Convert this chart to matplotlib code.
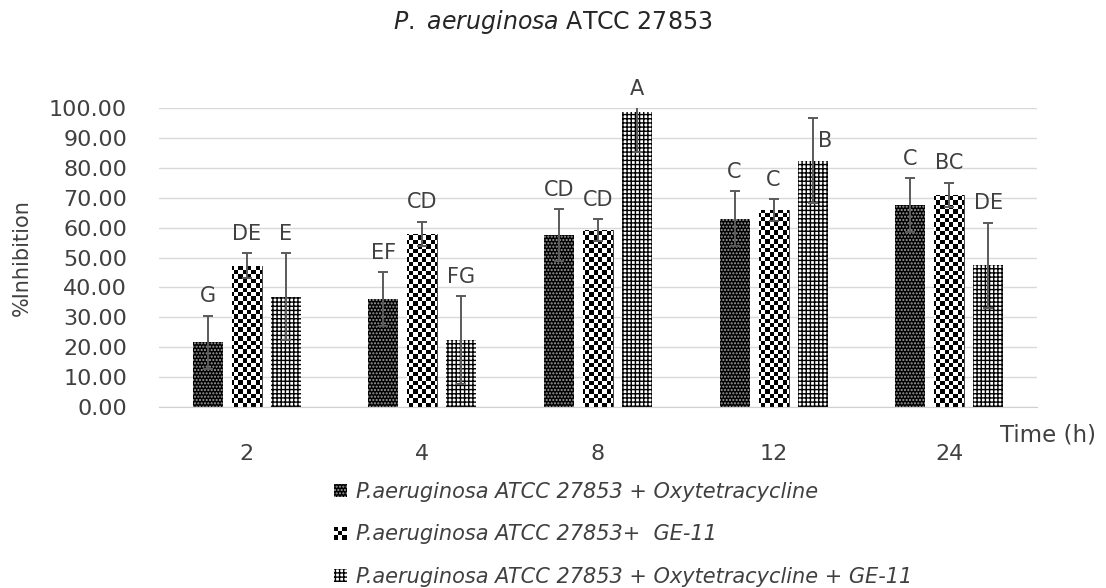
import numpy as np
import matplotlib
matplotlib.use("Agg")
import matplotlib.pyplot as plt
from matplotlib.patches import Rectangle
from matplotlib.legend_handler import HandlerBase
from matplotlib.ticker import FormatStrFormatter

# Data
times = ["2", "4", "8", "12", "24"]
oxy_mean = [21.6, 36.1, 57.4, 63.0, 67.6]
oxy_sd = [9.0, 8.9, 8.7, 9.1, 9.0]
ge_mean = [47.2, 57.8, 59.1, 65.9, 70.9]
ge_sd = [4.2, 4.1, 3.7, 3.6, 4.1]
combo_mean = [36.9, 22.4, 98.8, 82.4, 47.4]
combo_sd = [14.5, 14.6, 13.4, 14.3, 14.2]
oxy_letters = ["G", "EF", "CD", "C", "C"]
ge_letters = ["DE", "CD", "CD", "C", "BC"]
combo_letters = ["E", "FG", "A", "B", "DE"]
series_names = ["P.aeruginosa ATCC 27853 + Oxytetracycline",
                "P.aeruginosa ATCC 27853+  GE-11",
                "P.aeruginosa ATCC 27853 + Oxytetracycline + GE-11"]


# legend icon for the checkerboard series
class CheckerHandler(HandlerBase):
    def create_artists(self, legend, orig_handle, xdescent, ydescent,
                       width, height, fontsize, trans):
        arts = [Rectangle((-xdescent, -ydescent), width, height,
                          facecolor="white", edgecolor="none", transform=trans)]
        cw, ch = width / 3, height / 3
        for i in range(3):
            for j in range(3):
                if (i + j) % 2 == 0:
                    arts.append(Rectangle((-xdescent + i * cw, -ydescent + j * ch), cw, ch,
                                          facecolor="black", edgecolor="none", transform=trans))
        return arts


plt.rcParams["font.family"] = "DejaVu Sans"
plt.rcParams["hatch.linewidth"] = 1.0
txt = "#404040"

fig = plt.figure(figsize=(11.06, 5.88), dpi=100)
ax = fig.add_axes([159 / 1106, 1 - 407 / 588, 878 / 1106, 299 / 588])

x = np.arange(len(times))
w = 0.17
off = 0.222

b1 = ax.bar(x - off, oxy_mean, w, color="black", edgecolor="#a0a0a0",
            hatch=".....", linewidth=0, zorder=2)
b2 = ax.bar(x, ge_mean, w, color="white", edgecolor="black", linewidth=0.5, zorder=2)
b3 = ax.bar(x + off, combo_mean, w, color="white", edgecolor="black",
            hatch="++++", linewidth=0, zorder=2)

# checkerboard fill, clipped to each bar
cells = np.indices((68, 200)).sum(axis=0) % 2
for bar in b2:
    im = ax.imshow(cells, cmap="gray", vmin=0, vmax=1, extent=(-0.5, 4.5, 0, 100),
                   aspect="auto", interpolation="nearest", zorder=2.5)
    im.set_clip_path(bar)

# error bars
for xs, m, s in [(x - off, oxy_mean, oxy_sd), (x, ge_mean, ge_sd), (x + off, combo_mean, combo_sd)]:
    ax.errorbar(xs, m, yerr=s, fmt="none", ecolor="#5a5a5a", elinewidth=1.4,
                capsize=3.6, capthick=1.4, zorder=3)

# significance letters
for xs, m, s, letters in [(x - off, oxy_mean, oxy_sd, oxy_letters),
                          (x, ge_mean, ge_sd, ge_letters),
                          (x + off, combo_mean, combo_sd, combo_letters)]:
    for xi, mi, si, lab in zip(xs, m, s, letters):
        ly = min(mi + si, 100) + 6.5
        lx = xi
        if lab == "B":
            lx, ly = xi + 0.074, 89
        ax.text(lx, ly, lab, ha="center", va="center", fontsize=15, color=txt, clip_on=False)

ax.set_xlim(-0.5, 4.5)
ax.set_ylim(0, 100)
ax.set_yticks(np.arange(0, 101, 10))
ax.yaxis.set_major_formatter(FormatStrFormatter("%.2f"))
ax.set_xticks(x, times)
ax.yaxis.grid(color="#d9d9d9", linewidth=1)
ax.set_axisbelow(True)
for sp in ["top", "right", "left"]:
    ax.spines[sp].set_visible(False)
ax.spines["bottom"].set_color("#d0d0d0")
ax.tick_params(axis="y", length=0, pad=23, labelsize=16, labelcolor=txt)
ax.tick_params(axis="x", length=0, pad=27, labelsize=16, labelcolor=txt)

fig.text(0.5, 1 - 22 / 588, r"$\it{P.}$ $\it{aeruginosa}$ ATCC 27853",
         ha="center", va="center", fontsize=17, color="#262626")
fig.text(22 / 1106, 1 - 258 / 588, "%Inhibition", rotation=90,
         ha="center", va="center", fontsize=15, color=txt)
fig.text(1000 / 1106, 1 - 435 / 588, "Time (h)", ha="left", va="center",
         fontsize=16.5, color=txt)

checker_proxy = Rectangle((0, 0), 1, 1)
leg = fig.legend([b1, checker_proxy, b3], series_names,
                 handler_map={checker_proxy: CheckerHandler()},
                 loc="upper left", bbox_to_anchor=(334 / 1106, 1 - 482 / 588),
                 frameon=False, prop={"style": "italic", "size": 15},
                 handlelength=0.6, handleheight=0.6, handletextpad=0.45,
                 labelspacing=1.08, borderpad=0, borderaxespad=0)
for t in leg.get_texts():
    t.set_color(txt)

fig.savefig("out.png", dpi=100)
